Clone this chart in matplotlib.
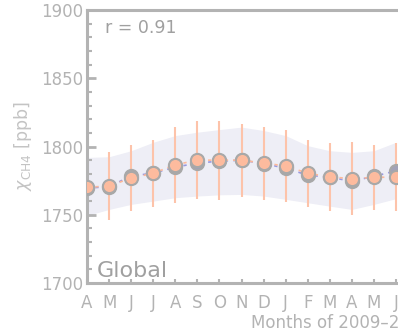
"""Seasonal cycle of column CH4: observations vs model (global)."""
import matplotlib
matplotlib.use("Agg")
import matplotlib.pyplot as plt
from matplotlib.ticker import MultipleLocator
import numpy as np

# months Apr 2009 .. Jun 2010 (visible part)
months = ["A", "M", "J", "J", "A", "S", "O", "N", "D", "J", "F", "M", "A", "M", "J"]
obs = [1770.1, 1771.1, 1776.8, 1780.4, 1786.6, 1790.0, 1790.0, 1790.0,
       1787.8, 1785.8, 1780.4, 1777.7, 1776.5, 1777.3, 1777.7]
obs_err = [26.0, 25.0, 24.4, 24.4, 27.7, 28.7, 28.9, 26.7,
           26.8, 26.6, 24.5, 24.9, 26.9, 24.0, 25.0]
model = [1769.5, 1770.6, 1778.4, 1780.4, 1784.9, 1787.8, 1789.3, 1790.0,
         1787.5, 1784.1, 1779.0, 1777.5, 1774.5, 1778.2, 1782.1]
band_hi = [1792.0, 1792.5, 1796.9, 1803.1, 1808.0, 1810.5, 1812.4, 1814.2,
           1811.7, 1808.0, 1800.6, 1796.9, 1795.7, 1796.9, 1803.1]
band_lo = [1749.4, 1753.9, 1757.6, 1760.0, 1762.5, 1763.7, 1764.6, 1764.9,
           1763.7, 1761.3, 1758.8, 1756.3, 1753.9, 1757.6, 1761.8]

GREY = "#b3b3b3"
ORANGE = "#fdbb9e"

fig = plt.figure(figsize=(3.98, 3.31), dpi=100)
ax = fig.add_axes([87 / 398, 48 / 331, 1.2755, 273 / 331])

x = np.arange(len(months))
ax.fill_between(x, band_lo, band_hi, color="#eeeef6", lw=0, zorder=1)
ax.errorbar(x, obs, yerr=obs_err, fmt="none", ecolor="#fdc3aa", elinewidth=1.5,
            capsize=0, zorder=2)
ax.plot(x, model, ls=(0, (2, 3)), color="#9898e0", lw=1.2, zorder=3)
ax.plot(x, model, "o", ms=9.5, mfc="#a2a2b8", mec="#a8a8a8", mew=1.5, zorder=4)
ax.plot(x, obs, ls=(0, (2, 3)), color="#fdb99a", lw=1.2, zorder=5)
ax.plot(x, obs, "o", ms=9.5, mfc=ORANGE, mec="#a8a8a8", mew=1.5, zorder=6)

ax.set_xlim(0, 23)
ax.set_ylim(1700, 1900)
ax.set_xticks(x)
ax.set_xticklabels(months)
ax.yaxis.set_major_locator(MultipleLocator(50))
ax.yaxis.set_minor_locator(MultipleLocator(10))

for s in ax.spines.values():
    s.set_color(GREY)
    s.set_linewidth(2.2)
ax.tick_params(axis="y", which="major", direction="in", length=6.5, width=2,
               color=GREY, labelcolor=GREY, labelsize=12, pad=3)
ax.tick_params(axis="y", which="minor", direction="in", length=3.5, width=1.5,
               color=GREY)
ax.tick_params(axis="x", direction="in", length=3, width=1.5, color=GREY,
               labelcolor=GREY, labelsize=12, pad=8)

ax.set_xlabel("Months of 2009\u20132010", color=GREY, fontsize=12, labelpad=1.5)
ax.set_ylabel(r"$\chi_{\mathrm{CH4}}$ [ppb]", color="#c4c4c4", fontsize=12.5,
              labelpad=5)

ax.text(0.0355, 0.934, "r = 0.91", transform=ax.transAxes, color="#a0a0a0",
        fontsize=12.5, ha="left", va="center")
ax.text(0.0197, 0.023, "Global", transform=ax.transAxes, color="#a0a0a0",
        fontsize=16, ha="left", va="baseline")

fig.savefig("out.png", dpi=100)
